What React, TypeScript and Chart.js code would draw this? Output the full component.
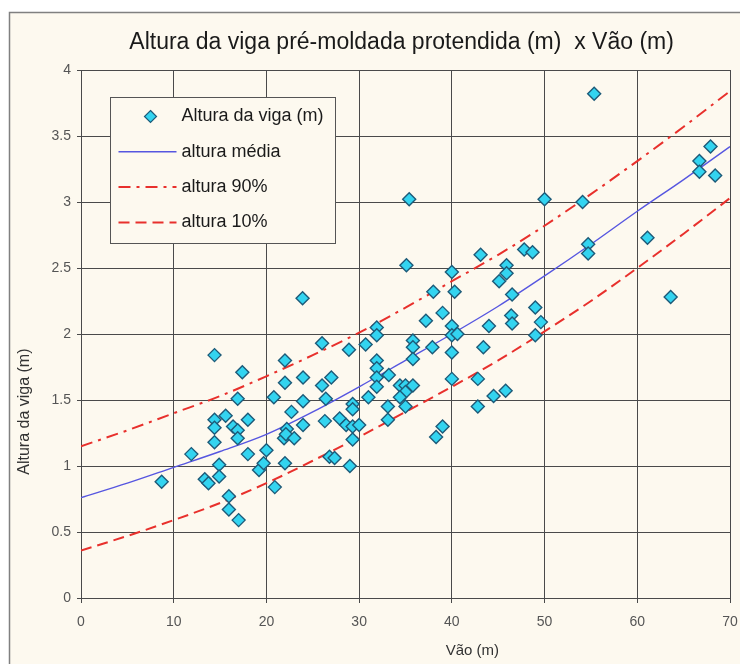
import React, { useEffect, useRef } from "react";
import { Chart, registerables } from "chart.js";

Chart.register(...registerables);

// ---- data ----
const spans = [
  8.7, 11.9, 13.35, 13.75, 14.4, 14.4, 14.4, 14.4, 14.9, 14.9,
  15.6, 15.95, 15.95, 16.4, 16.9, 16.9, 16.9, 17.0, 17.4, 18.0,
  18.0, 19.2, 19.7, 20.0, 20.8, 20.9, 22.0, 22.0, 22.2, 21.9,
  22.1, 23.0, 22.0, 22.7, 23.9, 23.95, 23.95, 23.95, 26.0, 26.0,
  26.4, 26.3, 26.8, 27.35, 27.0, 27.9, 28.6, 28.9, 29.0, 29.3,
  29.3, 29.3, 29.3, 30.0, 30.7, 31.0, 31.9, 31.9, 31.9, 31.9,
  31.9, 31.9, 33.2, 33.1, 33.1, 34.4, 35.0, 35.0, 34.4, 35.0,
  35.4, 35.1, 35.8, 35.8, 35.8, 35.8, 37.2, 38.0, 37.9, 39.0,
  39.0, 38.3, 40.0, 40.3, 40.0, 40.0, 40.6, 40.0, 40.0, 42.8,
  42.8, 43.1, 43.4, 44.0, 44.5, 45.8, 45.9, 45.9, 45.1, 46.5,
  46.4, 46.5, 47.8, 48.7, 49.0, 49.0, 49.6, 50.0, 54.1, 54.7,
  54.7, 55.35, 61.1, 63.6, 66.7, 66.7, 67.9, 68.4,
];
const heights = [
  0.88, 1.09, 0.90, 0.87, 1.84, 1.35, 1.29, 1.18, 1.01, 0.92,
  1.38, 0.77, 0.67, 1.30, 1.51, 1.27, 1.21, 0.59, 1.71, 1.35,
  1.09, 0.97, 1.02, 1.12, 1.52, 0.84, 1.80, 1.63, 1.28, 1.21,
  1.24, 1.21, 1.02, 1.41, 2.27, 1.67, 1.49, 1.31, 1.93, 1.61,
  1.51, 1.34, 1.07, 1.06, 1.67, 1.36, 1.31, 1.88, 1.00, 1.47,
  1.43, 1.30, 1.20, 1.31, 1.92, 1.52, 2.05, 1.99, 1.80, 1.74,
  1.67, 1.60, 1.69, 1.45, 1.35, 1.61, 1.61, 1.56, 1.52, 1.45,
  3.02, 2.52, 1.95, 1.90, 1.81, 1.61, 2.10, 2.32, 1.90, 2.16,
  1.30, 1.22, 2.47, 2.32, 2.06, 1.99, 2.00, 1.86, 1.66, 1.66,
  1.45, 2.60, 1.90, 2.06, 1.53, 1.57, 2.52, 2.46, 2.40, 2.30,
  2.14, 2.08, 2.64, 2.62, 2.20, 1.99, 2.09, 3.02, 3.00, 2.68,
  2.61, 3.82, 2.73, 2.28, 3.31, 3.23, 3.42, 3.20,
];

const curveSpans = [0, 5, 10, 15, 20, 25, 30, 35, 40, 45, 50, 55, 60, 65, 70];
const meanHeights = [0.76, 0.87, 0.99, 1.11, 1.24, 1.41, 1.60, 1.80, 2.00, 2.21, 2.44, 2.68, 2.93, 3.17, 3.42];
const p90Heights = [1.15, 1.27, 1.40, 1.53, 1.68, 1.84, 2.01, 2.20, 2.40, 2.60, 2.82, 3.06, 3.31, 3.57, 3.84];
const p10Heights = [0.36, 0.47, 0.59, 0.72, 0.87, 1.04, 1.22, 1.41, 1.60, 1.80, 2.02, 2.25, 2.50, 2.76, 3.03];

const seriesLabels = ["Altura da viga (m)", "altura média", "altura 90%", "altura 10%"];
const chartTitle = "Altura da viga pré-moldada protendida (m)  x Vão (m)";
const xAxisTitle = "Vão (m)";
const yAxisTitle = "Altura da viga (m)";
const xMin = 0, xMax = 70, xStep = 10;
const yMin = 0, yMax = 4, yStep = 0.5;

const FONT = "'Liberation Sans', Arial, sans-serif";

const decorPlugin = {
  id: "decor",
  beforeDraw(chart: any) {
    const { ctx, width, height } = chart;
    ctx.save();
    ctx.fillStyle = "#ffffff";
    ctx.fillRect(0, 0, width, height);
    ctx.fillStyle = "#fdf9ef";
    ctx.fillRect(9, 12, width - 9, height - 12);
    ctx.strokeStyle = "#808080";
    ctx.lineWidth = 1.5;
    ctx.beginPath();
    ctx.moveTo(9.5, height);
    ctx.lineTo(9.5, 12.5);
    ctx.lineTo(width, 12.5);
    ctx.stroke();
    ctx.restore();
  },
  afterDraw(chart: any) {
    const { ctx, chartArea } = chart;
    const { left, right, top, bottom } = chartArea;
    const w = right - left;
    const h = bottom - top;
    ctx.save();
    // main title
    ctx.fillStyle = "#1a1a1a";
    ctx.font = `23px ${FONT}`;
    ctx.textAlign = "center";
    ctx.textBaseline = "middle";
    ctx.fillText(chartTitle, left + w * 0.494, 43);
    // x axis title
    ctx.font = `15px ${FONT}`;
    ctx.fillStyle = "#333";
    ctx.fillText(xAxisTitle, left + w * 0.603, 651);
    // y axis title
    ctx.font = `16px ${FONT}`;
    ctx.save();
    ctx.translate(25, top + h * 0.647);
    ctx.rotate(-Math.PI / 2);
    ctx.fillText(yAxisTitle, 0, 0);
    ctx.restore();

    // legend
    const bx = left + 29.5, by = top + 27.5, bw = 225, bh = 146;
    ctx.fillStyle = "#fdf9ef";
    ctx.fillRect(bx, by, bw, bh);
    ctx.strokeStyle = "#555";
    ctx.lineWidth = 1;
    ctx.strokeRect(bx, by, bw, bh);
    ctx.font = `18px ${FONT}`;
    ctx.textAlign = "left";
    ctx.textBaseline = "middle";
    const ds = chart.data.datasets;
    ds.forEach((d: any, i: number) => {
      const ry = by + 19 + i * 35.3;
      if (i === 0) {
        const cx = bx + 40;
        const r = 6;
        ctx.beginPath();
        ctx.moveTo(cx, ry - r);
        ctx.lineTo(cx + r, ry);
        ctx.lineTo(cx, ry + r);
        ctx.lineTo(cx - r, ry);
        ctx.closePath();
        ctx.fillStyle = d.backgroundColor;
        ctx.fill();
        ctx.strokeStyle = d.borderColor;
        ctx.lineWidth = 1.2;
        ctx.stroke();
        ctx.fillStyle = "#1a1a1a";
        ctx.fillText(d.label, bx + 71, ry);
      } else {
        ctx.beginPath();
        ctx.setLineDash(d.borderDash || []);
        ctx.strokeStyle = d.borderColor;
        ctx.lineWidth = d.borderWidth;
        ctx.moveTo(bx + 8, ry);
        ctx.lineTo(bx + 66, ry);
        ctx.stroke();
        ctx.setLineDash([]);
        ctx.fillStyle = "#1a1a1a";
        ctx.fillText(d.label, bx + 71, ry);
      }
    });
    ctx.restore();
  },
};

export default function App() {
  const ref = useRef<HTMLCanvasElement | null>(null);
  useEffect(() => {
    if (!ref.current) return;
    const pts = spans.map((x, i) => ({ x, y: heights[i] }));
    const line = (arr: number[]) => curveSpans.map((x, i) => ({ x, y: arr[i] }));
    const chart = new Chart(ref.current, {
      type: "scatter",
      data: {
        datasets: [
          {
            label: seriesLabels[0],
            data: pts,
            pointStyle: "rectRot",
            pointRadius: 6.5,
            backgroundColor: "#33d4f0",
            borderColor: "#1d5a78",
            borderWidth: 1.4,
            showLine: false,
          },
          {
            label: seriesLabels[1],
            data: line(meanHeights),
            showLine: true,
            pointRadius: 0,
            borderColor: "#5656e0",
            borderWidth: 1.4,
            cubicInterpolationMode: "monotone",
          },
          {
            label: seriesLabels[2],
            data: line(p90Heights),
            showLine: true,
            pointRadius: 0,
            borderColor: "#e8302c",
            borderWidth: 2,
            borderDash: [12, 6, 3, 6],
            cubicInterpolationMode: "monotone",
          },
          {
            label: seriesLabels[3],
            data: line(p10Heights),
            showLine: true,
            pointRadius: 0,
            borderColor: "#e8302c",
            borderWidth: 2,
            borderDash: [11, 6],
            cubicInterpolationMode: "monotone",
          },
        ],
      } as any,
      options: {
        responsive: false,
        animation: false,
        layout: { padding: { left: 0, top: 70, right: 10, bottom: 0 } },
        plugins: {
          legend: { display: false },
          tooltip: { enabled: false },
          title: { display: false },
        },
        scales: {
          x: {
            type: "linear",
            min: xMin,
            max: xMax,
            ticks: {
              stepSize: xStep,
              color: "#555",
              font: { family: FONT, size: 14 },
              padding: 11,
              callback: (v: any) => String(Number(v)),
            },
            grid: { color: "#4a4a4a", lineWidth: 1, tickLength: 5 },
            border: { color: "#4a4a4a" },
            afterFit: (s: any) => {
              s.height = 66;
              s.paddingLeft = 0;
              s.paddingRight = 0;
            },
          },
          y: {
            type: "linear",
            min: yMin,
            max: yMax,
            ticks: {
              stepSize: yStep,
              color: "#555",
              font: { family: FONT, size: 14 },
              padding: 6,
              callback: (v: any) => String(Number(v)),
            },
            grid: { color: "#4a4a4a", lineWidth: 1, tickLength: 4 },
            border: { color: "#4a4a4a" },
            afterFit: (s: any) => {
              s.width = 81;
              s.paddingTop = 0;
              s.paddingBottom = 0;
            },
          },
        },
      } as any,
      plugins: [decorPlugin],
    });
    return () => chart.destroy();
  }, []);
  return (
    <div style={{ position: "absolute", left: 0, top: 0, width: 740, height: 664 }}>
      <canvas ref={ref} width={740} height={664} style={{ display: "block" }} />
    </div>
  );
}
